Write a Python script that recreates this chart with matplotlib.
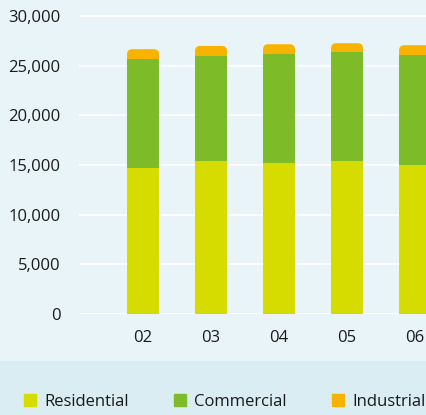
import numpy as np
import matplotlib.pyplot as plt
from matplotlib.patches import FancyBboxPatch, Rectangle

# data
years = ['02', '03', '04', '05', '06']
residential = [14720, 15420, 15190, 15390, 14990]
commercial = [10930, 10570, 10970, 10970, 11070]
industrial = [1010, 1000, 1000, 900, 1000]

c_res = '#D6DC00'
c_com = '#7DBB29'
c_ind = '#F8B300'
bg_top = '#E9F4F9'
bg_band = '#D9EDF2'
txt = '#1A1A1A'

plt.rcParams['font.family'] = ['Open Sans', 'DejaVu Sans']

W, H = 427, 415
fig = plt.figure(figsize=(W / 100, H / 100), dpi=100)
fig.patch.set_facecolor(bg_top)

# darker band behind the legend
fig.patches.append(Rectangle((0, 0), 1, (H - 361) / H, transform=fig.transFigure,
                             facecolor=bg_band, edgecolor='none', zorder=0))

# axes: 0 at y=314 px, 30,000 at y=16 px
ytop = 30300
px_per = (314 - 16) / 30000
ax = fig.add_axes([79 / W, 1 - 314 / H, 1 - 79 / W, (ytop * px_per) / H])
ax.set_facecolor('none')

x = np.arange(len(years))
width = 0.47
res = np.array(residential)
com = np.array(commercial)
ind = np.array(industrial)

for v in range(0, 30001, 5000):
    ax.axhline(v, color='white', lw=1.3, zorder=1)

ax.bar(x, res, width, color=c_res, label='Residential', zorder=3)
ax.bar(x, com, width, bottom=res, color=c_com, label='Commercial', zorder=3)
ind_bars = ax.bar(x, ind, width, bottom=res + com, color=c_ind, label='Industrial', zorder=2)

# rounded tops on the industrial segment
xr = 0.08
yr = 500
for b in ind_bars:
    b.set_visible(False)
    ext = 800
    p = FancyBboxPatch((b.get_x(), b.get_y() - ext), b.get_width(), b.get_height() + ext,
                       boxstyle='round,pad=0,rounding_size=%f' % xr,
                       mutation_aspect=yr / xr, facecolor=c_ind, edgecolor='none', zorder=2)
    ax.add_patch(p)

ax.set_xlim(-0.941, 4.176)
ax.set_ylim(0, ytop)
ax.set_xticks(x)
ax.set_xticklabels(years)
ax.set_yticks(range(0, 30001, 5000))
ax.set_yticklabels(['{:,}'.format(v) for v in range(0, 30001, 5000)])
ax.tick_params(length=0, labelsize=12, colors=txt)
ax.tick_params(axis='y', pad=13.5)
ax.tick_params(axis='x', pad=11.5)
for s in ax.spines.values():
    s.set_visible(False)

handles = [Rectangle((0, 0), 1, 1, color=c) for c in (c_res, c_com, c_ind)]
fig.legend(handles, ['Residential', 'Commercial', 'Industrial'], ncol=3,
           loc='center left', bbox_to_anchor=(24 / W, 1 - 402 / H), frameon=False,
           borderpad=0, borderaxespad=0,
           fontsize=12, handlelength=0.72, handleheight=0.72, handletextpad=0.5,
           columnspacing=2.7, labelcolor=txt)

fig.savefig('out.png', dpi=100, facecolor=fig.get_facecolor())
